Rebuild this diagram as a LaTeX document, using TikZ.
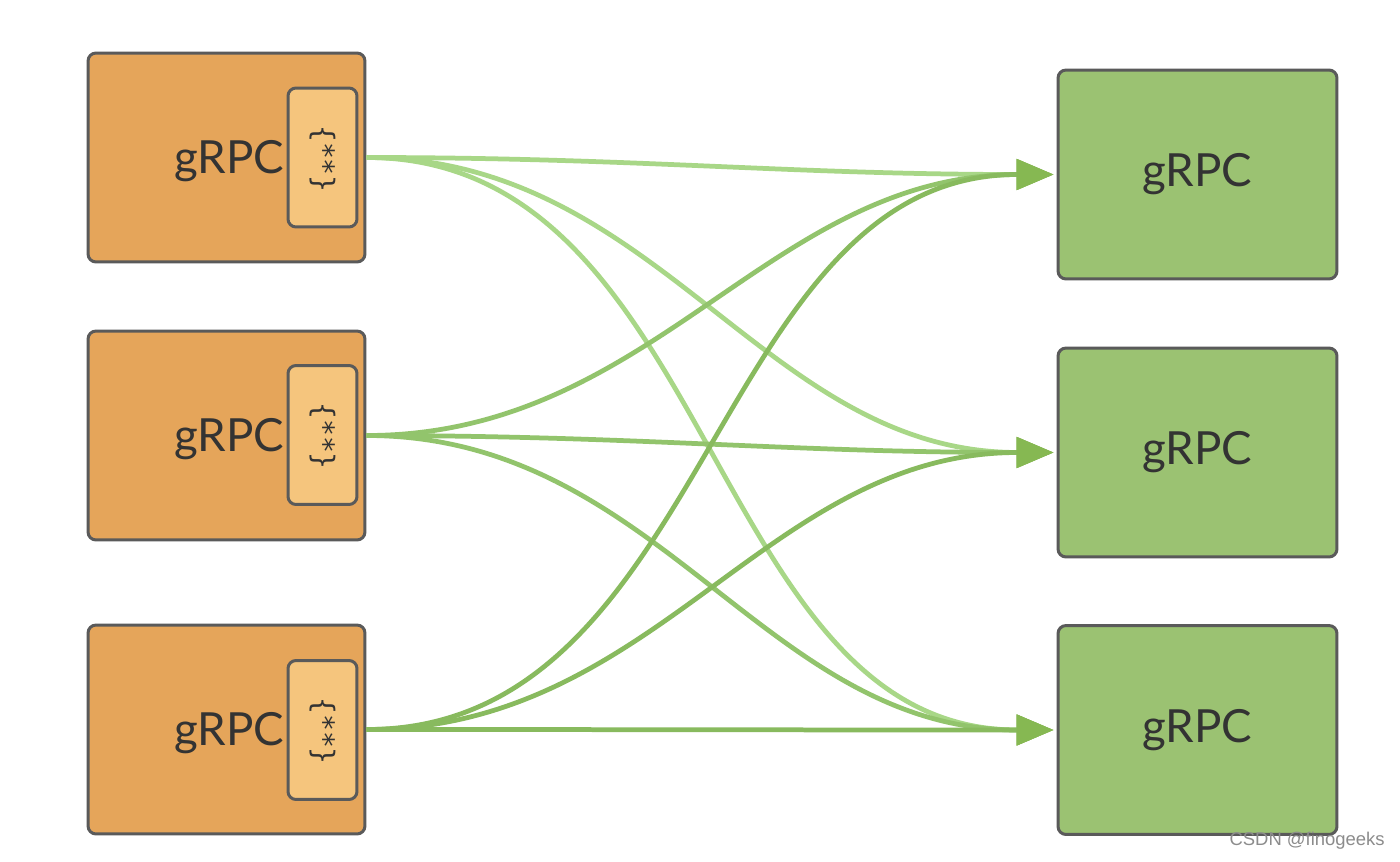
\documentclass[tikz,border=0pt]{standalone}
\usepackage{fontspec}
\setmainfont{Lato}
\newfontfamily\monofont{DejaVu Sans Mono}
\newfontfamily\wmfont{Liberation Sans}
\usetikzlibrary{arrows.meta}
\definecolor{orangefill}{HTML}{E5A55A}
\definecolor{innerfill}{HTML}{F5C57D}
\definecolor{greenfill}{HTML}{9BC272}
\definecolor{borderc}{HTML}{5A5A5A}
\definecolor{lineA}{HTML}{A8D787}
\definecolor{lineB}{HTML}{92C46C}
\definecolor{lineC}{HTML}{88BA5E}
\definecolor{tipc}{HTML}{86B852}
\definecolor{textc}{HTML}{333333}
\begin{document}
\begin{tikzpicture}[x=0.02cm,y=-0.02cm,
  srcbox/.style={draw=borderc,line width=0.06cm,fill=orangefill,rounded corners=0.16cm,minimum width=5.54cm,minimum height=4.18cm,inner sep=0},
  dstbox/.style={draw=borderc,line width=0.06cm,fill=greenfill,rounded corners=0.16cm,minimum width=5.58cm,minimum height=4.18cm,inner sep=0,font=\fontsize{26}{30}\selectfont,text=textc},
  innerbox/.style={draw=borderc,line width=0.06cm,fill=innerfill,rounded corners=0.16cm,minimum width=1.38cm,minimum height=2.78cm,inner sep=0},
  lbl/.style={font=\fontsize{26}{30}\selectfont,text=textc,inner sep=0},
  brace/.style={font=\monofont\fontsize{16}{18}\selectfont,text=textc,rotate=-90,inner sep=0},
  conn/.style={line width=0.095cm,-{Triangle[length=0.74cm,width=0.6cm,color=tipc]},shorten >=0.06cm},
  wm/.style={font=\wmfont\fontsize{10.5}{12}\selectfont,text=black!45,inner sep=0}
]
\useasboundingbox[fill=white] (0,0) rectangle (1400,862);
% left boxes
\node[srcbox] (L1) at (226.5,157.5) {};
\node[srcbox] (L2) at (226.5,435.5) {};
\node[srcbox] (L3) at (226.5,729.5) {};
\node[innerbox] (I1) at (322.5,157.5) {};
\node[innerbox] (I2) at (322.5,435) {};
\node[innerbox] (I3) at (322.5,730) {};
\node[brace] (B1) at (322.5,159) {\{**\}};
\node[brace] (B2) at (322.5,436) {\{**\}};
\node[brace] (B3) at (322.5,731) {\{**\}};
\node[lbl] (T1) at (229,161) {gRPC};
\node[lbl] (T2) at (229,439) {gRPC};
\node[lbl] (T3) at (229,733) {gRPC};
% right boxes
\node[dstbox] (R1) at (1197.5,174.5) {gRPC};
\node[dstbox] (R2) at (1197.5,452.5) {gRPC};
\node[dstbox] (R3) at (1197.5,730) {gRPC};
% connectors
\draw[conn,lineA] (L1.east) to[out=0,in=180] (R1.west);
\draw[conn,lineA] (L1.east) to[out=0,in=180] (R2.west);
\draw[conn,lineA] (L1.east) to[out=0,in=180] (R3.west);
\draw[conn,lineB] (L2.east) to[out=0,in=180] (R1.west);
\draw[conn,lineB] (L2.east) to[out=0,in=180] (R2.west);
\draw[conn,lineB] (L2.east) to[out=0,in=180] (R3.west);
\draw[conn,lineC] (L3.east) to[out=0,in=180] (R1.west);
\draw[conn,lineC] (L3.east) to[out=0,in=180] (R2.west);
\draw[conn,lineC] (L3.east) to[out=0,in=180] (R3.west);
\node[wm,anchor=east] (W) at (1385,841) {CSDN @finogeeks};
\end{tikzpicture}
\end{document}
